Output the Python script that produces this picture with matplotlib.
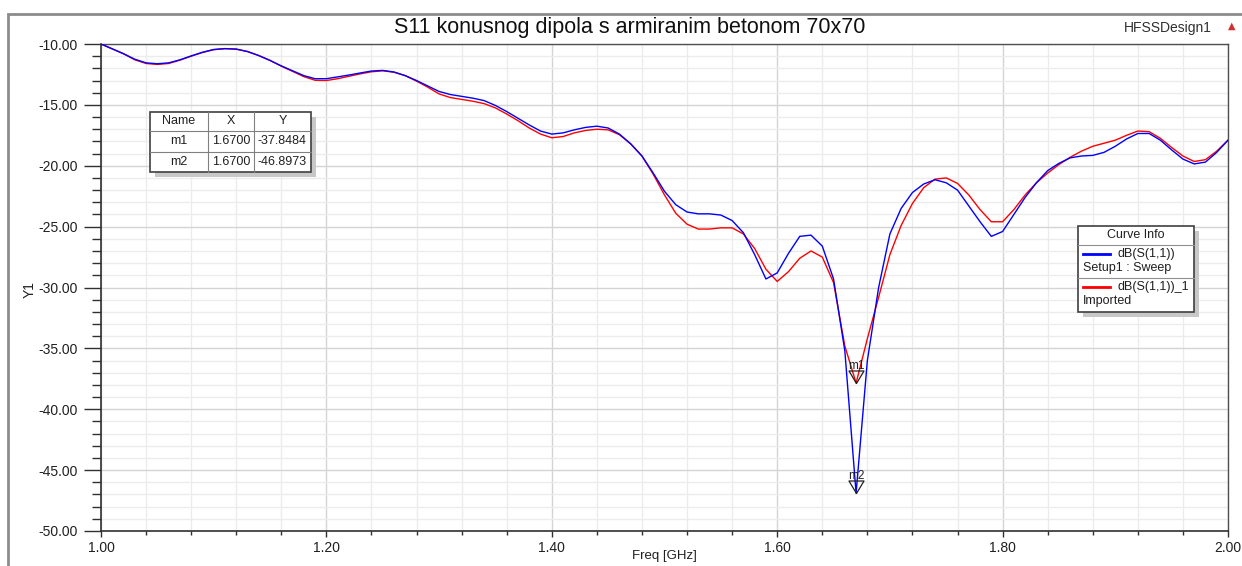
import matplotlib
matplotlib.use('Agg')
import matplotlib.pyplot as plt
import numpy as np
from matplotlib.patches import Rectangle
from matplotlib.lines import Line2D
from matplotlib.ticker import MultipleLocator, FormatStrFormatter

plt.rcParams['font.family'] = ['Liberation Sans', 'DejaVu Sans']

# sweep points, 1.00 .. 2.00 GHz in 10 MHz steps
freq = np.round(np.arange(1.00, 2.0001, 0.01), 2)

# dB(S(1,1))  Setup1 : Sweep
s11_sweep = [-10.0, -10.4, -10.8, -11.25, -11.55, -11.62, -11.55, -11.3, -10.98, -10.68,
             -10.45, -10.38, -10.42, -10.62, -10.95, -11.35, -11.8, -12.2, -12.6, -12.85,
             -12.85, -12.7, -12.55, -12.38, -12.22, -12.17, -12.3, -12.6, -13.0, -13.45,
             -13.9, -14.15, -14.3, -14.45, -14.65, -15.05, -15.55, -16.1, -16.65, -17.15,
             -17.4, -17.3, -17.05, -16.85, -16.75, -16.9, -17.4, -18.2, -19.2, -20.6,
             -22.1, -23.2, -23.8, -23.95, -23.95, -24.05, -24.5, -25.5, -27.3, -29.3,
             -28.8, -27.2, -25.8, -25.7, -26.6, -29.3, -35.2, -46.8973, -36.0, -30.0,
             -25.6, -23.5, -22.2, -21.5, -21.15, -21.4, -22.0, -23.3, -24.6, -25.8,
             -25.4, -24.0, -22.6, -21.4, -20.4, -19.8, -19.35, -19.2, -19.15, -18.9,
             -18.4, -17.8, -17.35, -17.35, -17.9, -18.7, -19.45, -19.85, -19.7, -18.9,
             -17.9]

# dB(S(1,1))_1  Imported
s11_imported = [-10.0, -10.4, -10.8, -11.3, -11.6, -11.68, -11.6, -11.33, -11.0, -10.7,
                -10.47, -10.38, -10.42, -10.62, -10.95, -11.35, -11.82, -12.25, -12.68, -12.98,
                -13.0, -12.85, -12.65, -12.45, -12.28, -12.2, -12.32, -12.6, -13.05, -13.55,
                -14.1, -14.4, -14.55, -14.7, -14.9, -15.25, -15.75, -16.3, -16.9, -17.4,
                -17.7, -17.6, -17.3, -17.1, -17.0, -17.05, -17.45, -18.2, -19.2, -20.7,
                -22.4, -23.9, -24.8, -25.2, -25.2, -25.1, -25.1, -25.6, -26.8, -28.5,
                -29.5, -28.7, -27.6, -27.0, -27.5, -29.6, -34.8, -37.8484, -34.2, -30.8,
                -27.3, -24.9, -23.1, -21.8, -21.1, -21.0, -21.45, -22.4, -23.6, -24.6,
                -24.6, -23.6, -22.4, -21.4, -20.6, -19.9, -19.3, -18.8, -18.4, -18.15,
                -17.9, -17.5, -17.15, -17.2, -17.75, -18.5, -19.2, -19.65, -19.5, -18.8,
                -17.9]

marker_names = ['m1', 'm2']
marker_x = [1.67, 1.67]
marker_y = [-37.8484, -46.8973]

W, H = 1242, 566
fig = plt.figure(figsize=(W / 100, H / 100), dpi=100)


def fx(px):
    return px / W


def fy(py):
    return 1 - py / H


# outer frame
fig.add_artist(Rectangle((fx(8), fy(580)), fx(1250) - fx(8), fy(14) - fy(580),
                         transform=fig.transFigure, fill=False,
                         edgecolor='#8c8c8c', lw=2))

ax = fig.add_axes([fx(101), fy(531), fx(1228) - fx(101), fy(44) - fy(531)])
ax.plot(freq, s11_imported, color='#ff0000', lw=1.0, zorder=3)
ax.plot(freq, s11_sweep, color='#0000ff', lw=1.0, zorder=4)

ax.set_xlim(1.0, 2.0)
ax.set_ylim(-50, -10)
ax.xaxis.set_major_locator(MultipleLocator(0.2))
ax.xaxis.set_minor_locator(MultipleLocator(0.04))
ax.yaxis.set_major_locator(MultipleLocator(5))
ax.yaxis.set_minor_locator(MultipleLocator(1))
ax.xaxis.set_major_formatter(FormatStrFormatter('%.2f'))
ax.yaxis.set_major_formatter(FormatStrFormatter('%.2f'))
ax.grid(which='major', color='#d4d4d4', lw=1.0)
ax.grid(which='minor', color='#ececec', lw=1.0)
ax.set_axisbelow(True)
ax.tick_params(axis='y', which='major', length=12, width=1, color='#303030',
               labelsize=10, pad=5, labelcolor='#202020')
ax.tick_params(axis='y', which='minor', length=6.5, width=1, color='#303030')
ax.tick_params(axis='x', which='major', length=4.5, width=1, color='#303030',
               labelsize=10, pad=3, labelcolor='#202020')
ax.tick_params(axis='x', which='minor', length=3, width=1, color='#303030')
for side in ['left', 'bottom']:
    ax.spines[side].set_color('#303030')
    ax.spines[side].set_linewidth(1.2)
for side in ['top', 'right']:
    ax.spines[side].set_color('#505050')
    ax.spines[side].set_linewidth(1.0)

# axis titles
fig.text(fx(664), fy(556), 'Freq [GHz]', ha='center', va='center',
         fontsize=9.5, color='#202020')
fig.text(fx(30), fy(290), 'Y1', rotation=90, ha='center', va='center',
         fontsize=10, color='#202020')

# markers: open triangles with apex at the data point
tri = [(0, 0), (-0.6, 1), (0.6, 1), (0, 0)]
for name, mx, my in zip(marker_names, marker_x, marker_y):
    ax.plot([mx], [my], marker=tri, markersize=18, mfc='none', mec='#202020',
            mew=0.9, ls='none', zorder=6)
    ax.annotate(name, (mx, my), xytext=(0, 8), textcoords='offset points',
                ha='center', va='bottom', fontsize=8.5, color='#202020', zorder=7)

fig.text(fx(630), fy(28), 'S11 konusnog dipola s armiranim betonom 70x70',
         ha='center', va='center', fontsize=15.5, color='#101010')
fig.text(fx(1168), fy(28), 'HFSSDesign1', ha='center', va='center',
         fontsize=10, color='#303030')
fig.text(fx(1232), fy(26), '\u25b2', ha='center', va='center', fontsize=7,
         color='#d03030', family='DejaVu Sans')

# marker table
tx0, tx1, ty0, ty1 = 150, 311, 112, 172
cols = [150, 208, 254, 311]
rows = [112, 131, 152, 172]
fig.add_artist(Rectangle((fx(tx0 + 5), fy(ty1 + 5)), fx(tx1 - tx0), fy(ty0) - fy(ty1),
                         transform=fig.transFigure, color='#c8c8c8', lw=0))
fig.add_artist(Rectangle((fx(tx0), fy(ty1)), fx(tx1 - tx0), fy(ty0) - fy(ty1),
                         transform=fig.transFigure, facecolor='white',
                         edgecolor='#404040', lw=1.2))
for c in cols[1:-1]:
    fig.add_artist(Line2D([fx(c), fx(c)], [fy(ty0), fy(ty1)], color='#808080', lw=0.8))
for r in rows[1:-1]:
    fig.add_artist(Line2D([fx(tx0), fx(tx1)], [fy(r), fy(r)], color='#808080', lw=0.8))
table_rows = [['Name', 'X', 'Y']]
for name, mx, my in zip(marker_names, marker_x, marker_y):
    table_rows.append([name, '%.4f' % mx, '%.4f' % my])
for i, row in enumerate(table_rows):
    for j, cell in enumerate(row):
        fig.text(fx((cols[j] + cols[j + 1]) / 2), fy((rows[i] + rows[i + 1]) / 2),
                 cell, ha='center', va='center', fontsize=9, color='#202020')

# curve info legend
lx0, lx1, ly0, ly1 = 1078, 1194, 226, 312
fig.add_artist(Rectangle((fx(lx0 + 5), fy(ly1 + 5)), fx(lx1 - lx0), fy(ly0) - fy(ly1),
                         transform=fig.transFigure, color='#c8c8c8', lw=0))
fig.add_artist(Rectangle((fx(lx0), fy(ly1)), fx(lx1 - lx0), fy(ly0) - fy(ly1),
                         transform=fig.transFigure, facecolor='white',
                         edgecolor='#404040', lw=1.2))
for r in [245, 278]:
    fig.add_artist(Line2D([fx(lx0), fx(lx1)], [fy(r), fy(r)], color='#909090', lw=0.8))
fig.text(fx(1136), fy(235), 'Curve Info', ha='center', va='center', fontsize=9,
         color='#202020')
entries = [('#0000ff', 'dB(S(1,1))', 'Setup1 : Sweep', 254),
           ('#ff0000', 'dB(S(1,1))_1', 'Imported', 287)]
for col, l1, l2, yy in entries:
    fig.add_artist(Line2D([fx(1083), fx(1110)], [fy(yy), fy(yy)], color=col, lw=2))
    fig.text(fx(1118), fy(yy), l1, ha='left', va='center', fontsize=9, color='#202020')
    fig.text(fx(1083), fy(yy + 14), l2, ha='left', va='center', fontsize=9,
             color='#202020')

fig.savefig('out.png', dpi=100)
